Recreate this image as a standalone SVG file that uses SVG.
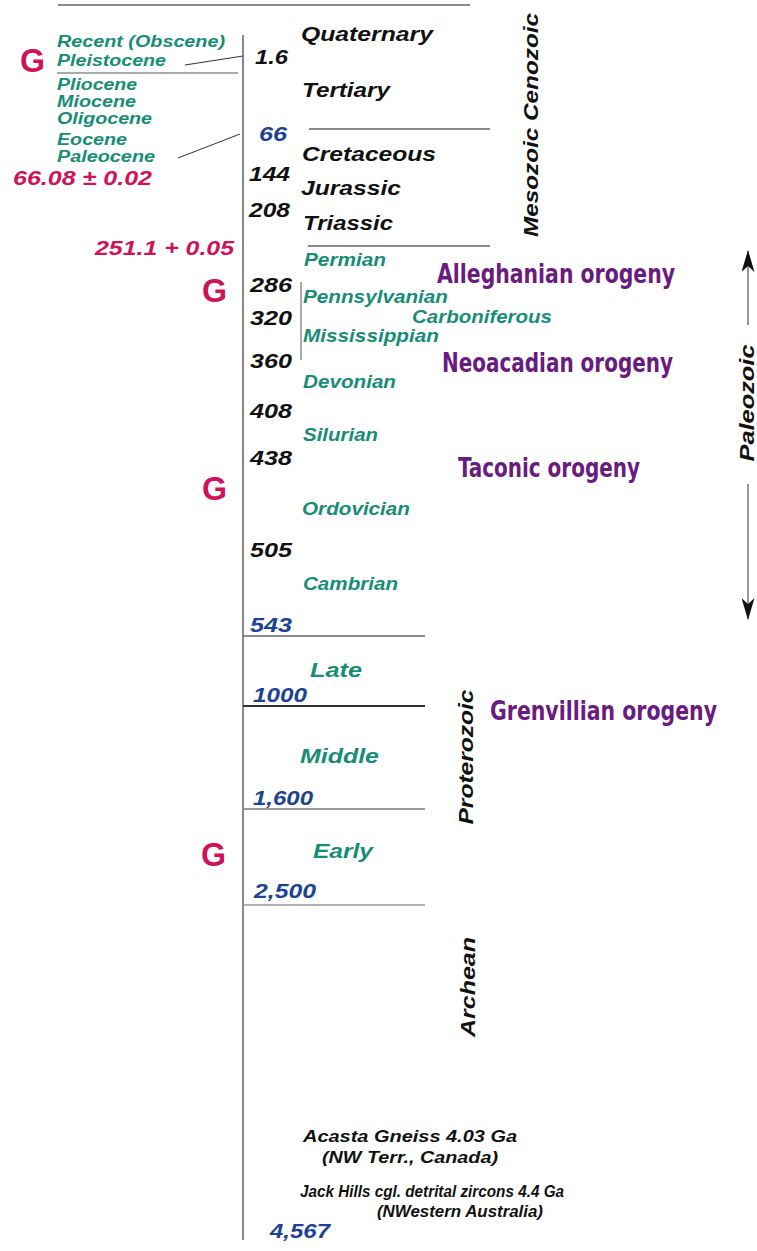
<svg xmlns="http://www.w3.org/2000/svg" width="757" height="1251" viewBox="0 0 757 1251">
<defs>
<style>
text{font-family:"Liberation Sans",Arial,sans-serif;font-weight:bold;font-style:italic}
.g{fill:#178d76;font-size:17.5px}
.e{fill:#178d76;font-size:16px}
.gl{fill:#178d76;font-size:20px}
.k{fill:#111;font-size:20px}
.b{fill:#1d4494;font-size:20px}
.r{fill:#cf1259;font-size:20px}
.G{fill:#cf1259;font-size:33px;font-style:normal}
.o{fill:#6a1b80;font-size:26px;font-style:normal;font-family:"Liberation Sans Narrow","DejaVu Sans Condensed","DejaVu Sans",sans-serif}
.s{fill:#111;font-size:16px}
.rot{fill:#111;font-size:20px;text-anchor:middle}
.ln{stroke:#666;stroke-width:1.5;fill:none}
</style>
<marker id="ah" viewBox="0 0 22 13" refX="21" refY="6.5" markerWidth="22" markerHeight="13" markerUnits="userSpaceOnUse" orient="auto">
<path d="M22,6.5 L0,0 L6,6.5 L0,13 Z" fill="#111"/>
</marker>
</defs>
<rect width="757" height="1251" fill="#fff"/>
<g id="connectors">
<path class="ln" d="M58,5 H470" stroke="#555"/>
<path d="M243,35 V1240" stroke="#888" stroke-width="2" fill="none"/>
<path d="M185,65 L243,56" stroke="#333" stroke-width="1" fill="none"/>
<path d="M178,158 L240,134" stroke="#333" stroke-width="1" fill="none"/>
<path d="M57,73 H238" stroke="#aaa" stroke-width="2" fill="none"/>
<path class="ln" d="M309,129 H490" stroke="#444"/>
<path class="ln" d="M308,246 H490" stroke="#444"/>
<path d="M301,282 V360" stroke="#555" stroke-width="1" fill="none"/>
<path class="ln" d="M243,636 H425"/>
<path d="M243,706 H425" stroke="#333" stroke-width="2" fill="none"/>
<path d="M243,809 H425" stroke="#999" stroke-width="2" fill="none"/>
<path d="M243,905 H425" stroke="#999" stroke-width="1.5" fill="none"/>
<path d="M748,325 V251" stroke="#777" stroke-width="1.5" fill="none" marker-end="url(#ah)"/>
<path d="M748,484 V619" stroke="#777" stroke-width="1.5" fill="none" marker-end="url(#ah)"/>
</g>
<g id="eras">
<text class="rot" transform="translate(538,125) rotate(-90)" textLength="224" lengthAdjust="spacingAndGlyphs">Mesozoic Cenozoic</text>
<text class="rot" transform="translate(754,403) rotate(-90)" textLength="117" lengthAdjust="spacingAndGlyphs">Paleozoic</text>
<text class="rot" transform="translate(473,757) rotate(-90)" textLength="135" lengthAdjust="spacingAndGlyphs">Proterozoic</text>
<text class="rot" transform="translate(475,987) rotate(-90)" textLength="100" lengthAdjust="spacingAndGlyphs">Archean</text>
</g>
<g id="epochs">
<text class="e" x="57" y="47" textLength="168" lengthAdjust="spacingAndGlyphs">Recent (Obscene)</text>
<text class="e" x="57" y="66" textLength="109" lengthAdjust="spacingAndGlyphs">Pleistocene</text>
<text class="e" x="57" y="90" textLength="80" lengthAdjust="spacingAndGlyphs">Pliocene</text>
<text class="e" x="57" y="107" textLength="79" lengthAdjust="spacingAndGlyphs">Miocene</text>
<text class="e" x="57" y="124" textLength="95" lengthAdjust="spacingAndGlyphs">Oligocene</text>
<text class="e" x="57" y="145" textLength="70" lengthAdjust="spacingAndGlyphs">Eocene</text>
<text class="e" x="57" y="162" textLength="98" lengthAdjust="spacingAndGlyphs">Paleocene</text>
</g>
<g id="periods">
<text class="k" x="301" y="41" textLength="132" lengthAdjust="spacingAndGlyphs">Quaternary</text>
<text class="k" x="302" y="97" textLength="88" lengthAdjust="spacingAndGlyphs">Tertiary</text>
<text class="k" x="302" y="161" textLength="134" lengthAdjust="spacingAndGlyphs">Cretaceous</text>
<text class="k" x="301" y="195" textLength="100" lengthAdjust="spacingAndGlyphs">Jurassic</text>
<text class="k" x="303" y="230" textLength="90" lengthAdjust="spacingAndGlyphs">Triassic</text>
<text class="g" x="304" y="266" textLength="82" lengthAdjust="spacingAndGlyphs">Permian</text>
<text class="g" x="303" y="303" textLength="145" lengthAdjust="spacingAndGlyphs">Pennsylvanian</text>
<text class="g" x="412" y="323" textLength="140" lengthAdjust="spacingAndGlyphs">Carboniferous</text>
<text class="g" x="303" y="342" textLength="136" lengthAdjust="spacingAndGlyphs">Mississippian</text>
<text class="g" x="303" y="388" textLength="93" lengthAdjust="spacingAndGlyphs">Devonian</text>
<text class="g" x="303" y="441" textLength="75" lengthAdjust="spacingAndGlyphs">Silurian</text>
<text class="g" x="302" y="515" textLength="108" lengthAdjust="spacingAndGlyphs">Ordovician</text>
<text class="g" x="303" y="590" textLength="95" lengthAdjust="spacingAndGlyphs">Cambrian</text>
<text class="gl" x="310" y="677" textLength="52" lengthAdjust="spacingAndGlyphs">Late</text>
<text class="gl" x="300" y="763" textLength="79" lengthAdjust="spacingAndGlyphs">Middle</text>
<text class="gl" x="313" y="858" textLength="60" lengthAdjust="spacingAndGlyphs">Early</text>
</g>
<g id="ages">
<text class="k" x="255" y="64" textLength="33" lengthAdjust="spacingAndGlyphs">1.6</text>
<text class="b" x="259" y="141" textLength="28" lengthAdjust="spacingAndGlyphs">66</text>
<text class="k" x="249" y="181" textLength="41" lengthAdjust="spacingAndGlyphs">144</text>
<text class="k" x="249" y="217" textLength="41" lengthAdjust="spacingAndGlyphs">208</text>
<text class="k" x="250" y="292" textLength="42" lengthAdjust="spacingAndGlyphs">286</text>
<text class="k" x="250" y="325" textLength="42" lengthAdjust="spacingAndGlyphs">320</text>
<text class="k" x="250" y="368" textLength="42" lengthAdjust="spacingAndGlyphs">360</text>
<text class="k" x="250" y="418" textLength="42" lengthAdjust="spacingAndGlyphs">408</text>
<text class="k" x="250" y="465" textLength="42" lengthAdjust="spacingAndGlyphs">438</text>
<text class="k" x="250" y="557" textLength="42" lengthAdjust="spacingAndGlyphs">505</text>
<text class="b" x="250" y="632" textLength="42" lengthAdjust="spacingAndGlyphs">543</text>
<text class="b" x="253" y="702" textLength="54" lengthAdjust="spacingAndGlyphs" font-size="19">1000</text>
<text class="b" x="253" y="805" textLength="60" lengthAdjust="spacingAndGlyphs" font-size="19">1,600</text>
<text class="b" x="254" y="898" textLength="62" lengthAdjust="spacingAndGlyphs" font-size="19">2,500</text>
<text class="b" x="270" y="1238" textLength="60" lengthAdjust="spacingAndGlyphs">4,567</text>
</g>
<g id="extinctions">
<text class="G" x="20" y="72" textLength="25" lengthAdjust="spacingAndGlyphs">G</text>
<text class="r" x="13" y="185" textLength="139" lengthAdjust="spacingAndGlyphs">66.08 ± 0.02</text>
<text class="r" x="95" y="255" textLength="139" lengthAdjust="spacingAndGlyphs">251.1 + 0.05</text>
<text class="G" x="202" y="302" textLength="25" lengthAdjust="spacingAndGlyphs">G</text>
<text class="G" x="202" y="500" textLength="25" lengthAdjust="spacingAndGlyphs">G</text>
<text class="G" x="201" y="866" textLength="25" lengthAdjust="spacingAndGlyphs">G</text>
</g>
<g id="orogenies">
<text class="o" x="437" y="283" textLength="238" lengthAdjust="spacingAndGlyphs">Alleghanian orogeny</text>
<text class="o" x="442" y="372" textLength="231" lengthAdjust="spacingAndGlyphs">Neoacadian orogeny</text>
<text class="o" x="458" y="477" textLength="182" lengthAdjust="spacingAndGlyphs">Taconic orogeny</text>
<text class="o" x="490" y="720" textLength="227" lengthAdjust="spacingAndGlyphs">Grenvillian orogeny</text>
</g>
<g id="oldest-rocks">
<text class="s" x="303" y="1142" textLength="214" lengthAdjust="spacingAndGlyphs">Acasta Gneiss 4.03 Ga</text>
<text class="s" x="322" y="1163" textLength="176" lengthAdjust="spacingAndGlyphs">(NW Terr., Canada)</text>
<text class="s" x="300" y="1197" textLength="264" lengthAdjust="spacingAndGlyphs">Jack Hills cgl. detrital zircons 4.4 Ga</text>
<text class="s" x="377" y="1217" textLength="166" lengthAdjust="spacingAndGlyphs">(NWestern Australia)</text>
</g>
</svg>
